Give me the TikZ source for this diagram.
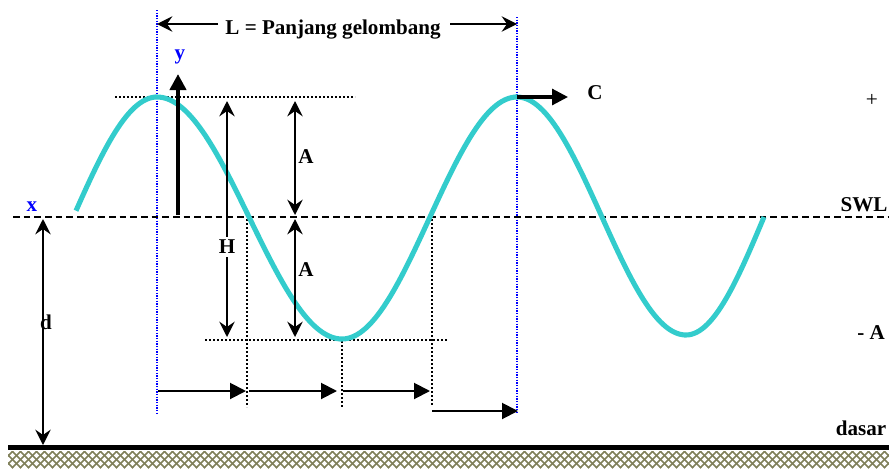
\documentclass[tikz,border=0pt]{standalone}
\usepackage{fontspec}
\setmainfont{Liberation Serif}
\usetikzlibrary{arrows.meta}
\definecolor{wavec}{RGB}{51,204,204}
\definecolor{groundc}{RGB}{128,128,90}
\begin{document}
\begin{tikzpicture}[x=0.75pt,y=-0.75pt,
  lbl/.style={font=\fontsize{15.8}{18}\selectfont\bfseries, inner sep=0pt},
  blbl/.style={lbl, text=blue},
  stl/.tip={Stealth[length=11.5pt,width=11.5pt,inset=4pt]},
  trl/.tip={Triangle[length=12pt,width=12pt]},
  dimline/.style={line width=1.5pt, stl-stl},
  onearrow/.style={line width=1.5pt, -stl},
  triarrow/.style={line width=1.5pt, -trl},
  bdot/.style={blue, line width=1pt, dash pattern=on 1pt off 1pt},
  kdot/.style={black, line width=1.2pt, dash pattern=on 1.2pt off 1.8pt},
  wavestyle/.style={wavec, line width=3.8pt},
]
\path[use as bounding box] (0,0) rectangle (889,468);

% ground
\coordinate (g1) at (8,447);
\coordinate (g2) at (889,447);
\begin{scope}
  \clip (8,451) rectangle (889,468);
  \foreach \i in {-20,-12,...,900} {
    \draw[groundc, line width=1.3pt] (\i,451) -- ++(17,17);
    \draw[groundc, line width=1.3pt] (\i,468) -- ++(17,-17);
  }
\end{scope}
\draw[line width=3.75pt] (g1) -- (g2);

% blue dotted verticals
\coordinate (Ltop) at (157,10);
\coordinate (Lbot) at (157,413);
\coordinate (Rtop) at (517,17);
\coordinate (Rbot) at (517,413);
\draw[bdot] (Ltop) -- (Lbot);
\draw[bdot] (Rtop) -- (Rbot);

% wavelength label
\node[lbl, anchor=base] (L) at (333,34) {L = Panjang gelombang};
\coordinate (La) at (218,24);
\coordinate (Lb) at (450,24);
\draw[onearrow] (La) -- (La -| Ltop);
\draw[onearrow] (Lb) -- (Lb -| Rtop);

% SWL
\coordinate (swlL) at (13,217);
\coordinate (swlR) at (889,217);
\draw[line width=1.2pt, dash pattern=on 5pt off 3pt] (swlL) -- (swlR);

% crest and trough dotted lines
\coordinate (c1) at (115,97);
\coordinate (c2) at (355,97);
\coordinate (t1) at (205,340);
\coordinate (t2) at (447,340);
\draw[kdot] (c1) -- (c2);
\draw[kdot] (t1) -- (t2);

% vertical dotted lines
\coordinate (v1a) at (247,219); \coordinate (v1b) at (247,407);
\coordinate (v2a) at (342,341); \coordinate (v2b) at (342,408);
\coordinate (v3a) at (432,219); \coordinate (v3b) at (432,405);
\draw[kdot] (v1a) -- (v1b);
\draw[kdot] (v2a) -- (v2b);
\draw[kdot] (v3a) -- (v3b);

% wave
\draw[wavestyle, line cap=butt]
  plot[domain=76:157, samples=30] (\x, {217-120*sin(3+(\x-76)/81*87)})
  -- plot[domain=157:342, samples=60] (\x, {97+121*(1-cos((\x-157)/185*180))})
  -- plot[domain=342:517, samples=60] (\x, {339-121*(1-cos((\x-342)/175*180))})
  -- plot[domain=517:686, samples=60] (\x, {97+119*(1-cos((\x-517)/169*180))})
  -- plot[domain=686:764, samples=30] (\x, {335-118*(1-cos((\x-686)/78*90))});

% y axis arrow
\coordinate (ya) at (178,215);
\coordinate (yb) at (178,74);
\draw[line width=3pt, -{Triangle[length=12pt,width=12pt]}] (ya) -- (yb);
\node[blbl] (ylab) at (180,57) {y};
\node[blbl] (xlab) at (32,207) {x};

% H arrow
\coordinate (Ht) at (227,101);
\coordinate (Hb) at (227,337);
\draw[dimline] (Ht) -- (Hb);
\node[lbl, fill=white, inner sep=2pt] (H) at (227,247) {H};

% A arrows
\coordinate (A1t) at (295,101);
\coordinate (A1b) at (295,215);
\coordinate (A2t) at (295,219);
\coordinate (A2b) at (295,337);
\draw[dimline] (A1t) -- (A1b);
\draw[dimline] (A2t) -- (A2b);
\node[lbl] (Aup) at (306,157) {A};
\node[lbl] (Alo) at (306,270) {A};

% d arrow
\coordinate (dt) at (43,219);
\coordinate (db) at (43,445);
\draw[dimline] (dt) -- (db);
\node[lbl] (dlab) at (46,322) {d};

% bottom arrows
\coordinate (b1) at (158,391); \coordinate (b2) at (246,391);
\coordinate (b3) at (249,391); \coordinate (b4) at (337,391);
\coordinate (b5) at (343,391); \coordinate (b6) at (430,391);
\coordinate (b7) at (432,411); \coordinate (b8) at (518,411);
\draw[triarrow] (b1) -- (b2);
\draw[triarrow] (b3) -- (b4);
\draw[triarrow] (b5) -- (b6);
\draw[triarrow] (b7) -- (b8);

% C arrow
\coordinate (C1) at (517,97);
\coordinate (C2) at (568,97);
\draw[line width=2.3pt, -{Triangle[length=12pt,width=12pt]}] (C1) -- (C2);
\node[lbl] (Clab) at (595,93) {C};

% right labels
\node[font=\fontsize{16}{18}\selectfont, inner sep=0pt] (plus) at (872,100) {+};
\node[lbl] (swl) at (864,205) {SWL};
\node[lbl] (minA) at (871,333) {- A};
\node[lbl] (dasar) at (861,428) {dasar};
\end{tikzpicture}
\end{document}
